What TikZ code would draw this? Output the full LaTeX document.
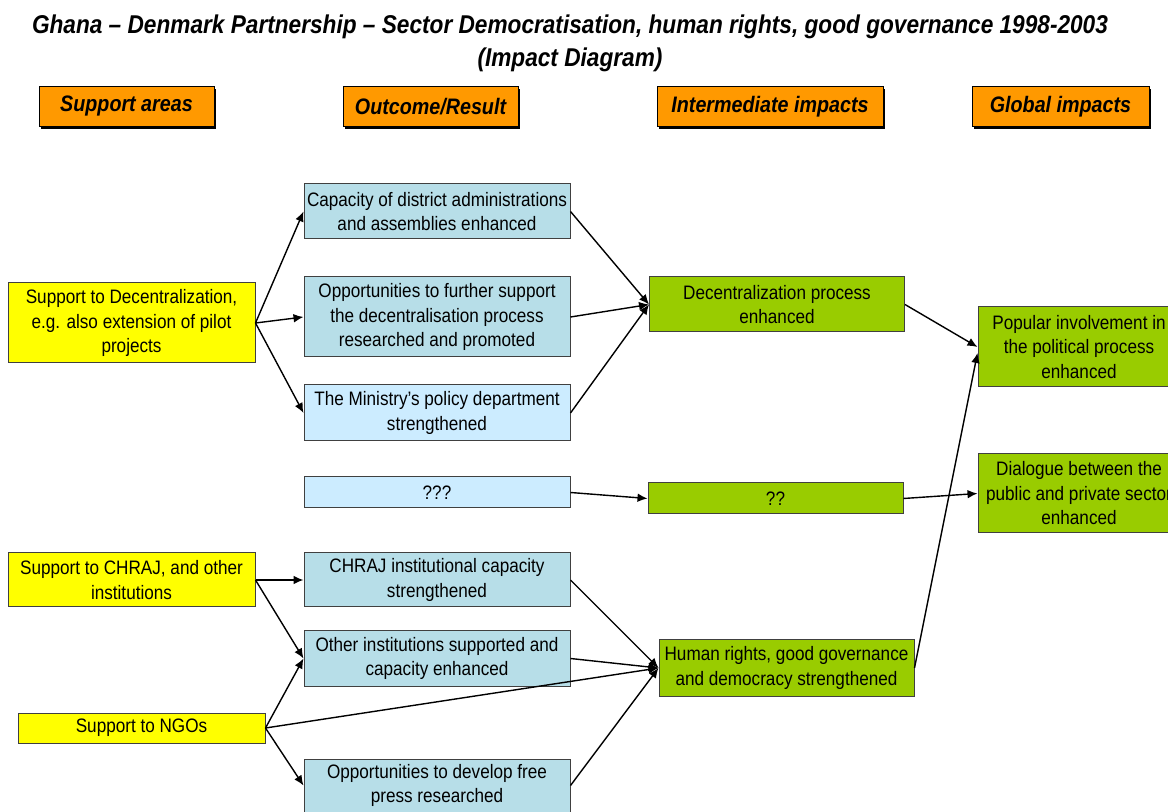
\documentclass[tikz,border=0pt]{standalone}
\usepackage{fontspec}
\setmainfont{Liberation Sans}[FakeStretch=0.88]
\usetikzlibrary{arrows.meta,shadows}
\definecolor{sorange}{HTML}{FF9900}
\definecolor{syellow}{HTML}{FFFF00}
\definecolor{steal}{HTML}{B7DEE8}
\definecolor{sblue}{HTML}{CCECFF}
\definecolor{sgreen}{HTML}{99CC00}
\newcommand{\bodyfont}{\fontsize{14.6pt}{18.4pt}\selectfont}
\newcommand{\headfont}{\fontsize{16.8pt}{20pt}\selectfont\bfseries\itshape}
\newcommand{\titlefont}{\fontsize{19.3pt}{25pt}\selectfont\bfseries\itshape}
\begin{document}
\begin{tikzpicture}[x=0.75pt,y=-0.75pt,>={Latex[length=7.5pt,width=6.5pt]},
  box/.style={draw=black!75,line width=0.75pt,inner sep=0pt,align=center,font=\bodyfont},
  head/.style={draw=black,fill=sorange,line width=0.75pt,inner sep=0pt,font=\headfont,
    minimum height=40*.75pt,general shadow={fill=black,shadow xshift=1.6pt,shadow yshift=-1.6pt}},
  supp/.style={box,fill=syellow,minimum width=247*.75pt},
  outc/.style={box,fill=steal,minimum width=266*.75pt},
  inter/.style={box,fill=sgreen,minimum width=255*.75pt},
  glob/.style={box,fill=sgreen,minimum width=202*.75pt},
  link/.style={->,line width=1.05pt}]
\useasboundingbox (0,0) rectangle (1168,812);

% title and column heads
\node[align=center,font=\titlefont] (title) at (570,43.5)
  {Ghana – Denmark Partnership – Sector Democratisation, human rights, good governance 1998-2003\\(Impact Diagram)};
\node[head,minimum width=175*.75pt] (hsup) at (126.5,106.5) {Support areas};
\node[head,minimum width=175*.75pt] (hout) at (430.5,106.5) {Outcome/Result};
\node[head,minimum width=226*.75pt] (hint) at (770,106.5) {Intermediate impacts};
\node[head,minimum width=177*.75pt] (hglo) at (1060.5,106.5) {Global impacts};

% support areas
\node[supp,minimum height=80*.75pt] (sdec) at (131.5,323) {Support to Decentralization,\\e.g. also extension of pilot\\projects};
\node[supp,minimum height=54*.75pt] (schr) at (131.5,580) {Support to CHRAJ, and other\\institutions};
\node[supp,minimum height=30*.75pt] (sngo) at (141.5,728) {Support to NGOs};

% outcomes
\node[outc,minimum height=55*.75pt] (cap) at (437,211.5) {Capacity of district administrations\\and assemblies enhanced};
\node[outc,minimum height=80*.75pt] (opp) at (437,317) {Opportunities to further support\\the decentralisation process\\researched and promoted};
\node[outc,fill=sblue,minimum height=56*.75pt] (min) at (437,413) {The Ministry’s policy department\\strengthened};
\node[outc,fill=sblue,minimum height=31*.75pt] (qqq) at (437,492.5) {???};
\node[outc,minimum height=54*.75pt] (chr) at (437,580) {CHRAJ institutional capacity\\strengthened};
\node[outc,minimum height=55*.75pt] (oth) at (437,658.5) {Other institutions supported and\\capacity enhanced};
\node[outc,minimum height=53*.75pt] (prs) at (437,785.5) {Opportunities to develop free\\press researched};

% intermediate impacts
\node[inter,minimum height=55*.75pt] (dec) at (777,304.5) {Decentralization process\\enhanced};
\node[inter,minimum height=31*.75pt] (qq) at (775.5,498.5) {??};
\node[inter,minimum height=56*.75pt] (hum) at (786.5,668) {Human rights, good governance\\and democracy strengthened};

% global impacts
\node[glob,minimum height=80*.75pt] (pop) at (1079,347) {Popular involvement in\\the political process\\enhanced};
\node[glob,minimum height=79*.75pt] (dia) at (1079,493.5) {Dialogue between the\\public and private sector\\enhanced};

% links
\draw[link] (sdec.east)--(cap.west);
\draw[link] (sdec.east)--(opp.west);
\draw[link] (sdec.east)--(min.west);
\draw[link] (schr.east)--(chr.west);
\draw[link] (schr.east)--(oth.west);
\draw[link] (sngo.east)--(oth.west);
\draw[link] (sngo.east)--(prs.west);
\draw[link] (sngo.east)--(hum.west);
\draw[link] (cap.east)--(dec.west);
\draw[link] (opp.east)--(dec.west);
\draw[link] (min.east)--(dec.west);
\draw[link] (qqq.east)--(qq.west);
\draw[link] (chr.east)--(hum.west);
\draw[link] (oth.east)--(hum.west);
\draw[link] (prs.east)--(hum.west);
\draw[link] (dec.east)--(pop.west);
\draw[link] (hum.east)--([yshift=-4.5pt]pop.west);
\draw[link] (qq.east)--(dia.west);
\end{tikzpicture}
\end{document}
